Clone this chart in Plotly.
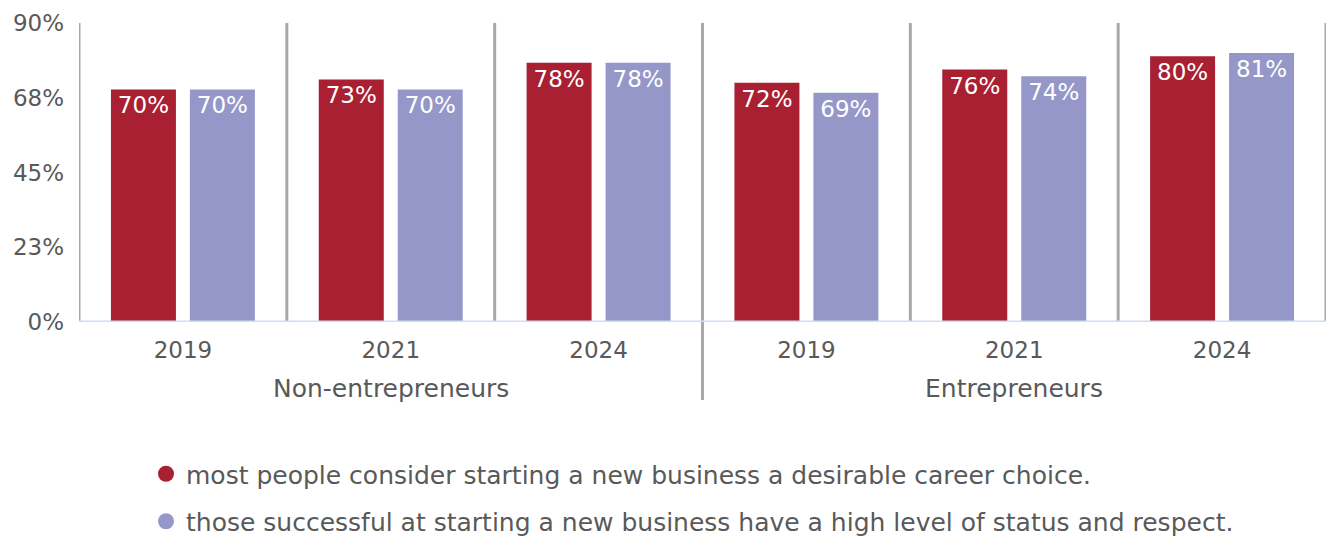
import plotly.graph_objects as go

# Survey data: share agreeing with each statement, by group and year
groups = ["Non-entrepreneurs", "Entrepreneurs"]
years = ["2019", "2021", "2024"]
desirable_career = [70, 73, 78, 72, 76, 80]
status_respect = [70, 70, 78, 69, 74, 81]
series_names = [
    "most people consider starting a new business a desirable career choice.",
    "those successful at starting a new business have a high level of status and respect.",
]
y_tickvals = [0, 22.5, 45, 67.5, 90]
y_ticktext = ["0%", "23%", "45%", "68%", "90%"]

RED = "#A82032"
PURPLE = "#9597C9"
GREY_TEXT = "#595959"
FONT = "DejaVu Sans"
FS = 23
FS_TEXT = 25

n = len(groups) * len(years)
xpos = list(range(n))
xlabels = years * len(groups)

fig = go.Figure()
for vals, color in [(desirable_career, RED), (status_respect, PURPLE)]:
    fig.add_trace(go.Bar(
        x=xpos, y=vals, marker_color=color, marker_line_width=0,
        text=[f"{v}%" for v in vals], textposition="inside",
        insidetextanchor="end", textangle=0,
        textfont=dict(color="white", size=FS, family=FONT),
        cliponaxis=False, showlegend=False, hoverinfo="skip",
    ))

# Legend entries drawn as circles
for i, (name, color) in enumerate(zip(series_names, [RED, PURPLE])):
    fig.add_trace(go.Scatter(
        x=[None], y=[None], mode="markers", name=name,
        legendgroup=f"g{i}",
        marker=dict(symbol="circle", size=16, color=color),
    ))

shapes = []
# Dividers between year columns; the middle one runs down past the group labels
for i in range(n + 1):
    b = i - 0.5
    long = (i == len(years))
    shapes.append(dict(
        type="line", xref="x", yref="paper" if long else "y",
        x0=b, x1=b,
        y0=(322 - 400) / 299 if long else 0, y1=1 if long else 90,
        line=dict(color="#A8A8A8", width=3), layer="above",
    ))
# Baseline
shapes.append(dict(type="line", xref="x", yref="y", x0=-0.5, x1=n - 0.5,
                   y0=0, y1=0, line=dict(color="#CCE0F4", width=3),
                   layer="above"))

annotations = []
for g, name in enumerate(groups):
    annotations.append(dict(
        x=g * len(years) + (len(years) - 1) / 2, y=(322 - 388) / 299,
        xref="x", yref="paper", text=name, showarrow=False,
        font=dict(size=FS_TEXT, color=GREY_TEXT, family=FONT),
        yanchor="middle",
    ))

fig.update_layout(
    width=1330, height=537,
    margin=dict(l=79, r=4, t=23, b=215, autoexpand=False),
    paper_bgcolor="white", plot_bgcolor="white",
    barmode="group", bargap=0.24, bargroupgap=0.177,
    font=dict(family=FONT, color=GREY_TEXT, size=FS),
    xaxis=dict(
        range=[-0.5, n - 0.5], tickmode="array", tickvals=xpos,
        ticktext=xlabels, showgrid=False, zeroline=False, showline=False,
        ticks="", ticklabelstandoff=12, automargin=False,
        tickfont=dict(size=FS, color=GREY_TEXT, family=FONT),
    ),
    yaxis=dict(
        range=[0, 90], tickmode="array", tickvals=y_tickvals,
        ticktext=y_ticktext, showgrid=False, zeroline=False, showline=False,
        ticks="", ticklabelstandoff=14, automargin=False,
        tickfont=dict(size=FS, color=GREY_TEXT, family=FONT),
    ),
    legend=dict(
        x=(146 - 79) / 1247, xanchor="left",
        yref="container", y=1 - 451 / 537, yanchor="top",
        orientation="v", font=dict(size=FS_TEXT, color=GREY_TEXT, family=FONT),
        bgcolor="rgba(0,0,0,0)", tracegroupgap=12,
    ),
    shapes=shapes, annotations=annotations,
    uniformtext=dict(mode=False),
)

fig.write_html("out.html")
